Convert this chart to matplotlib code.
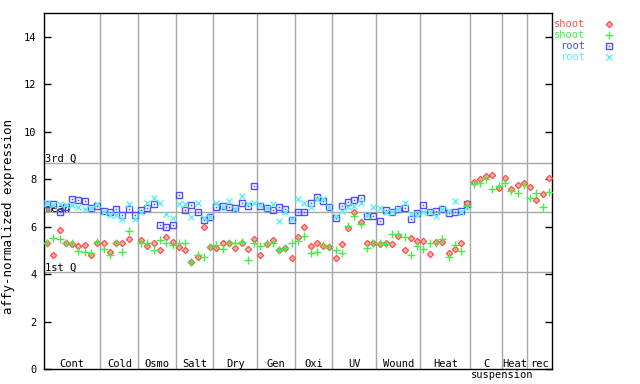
import numpy as np
import matplotlib.pyplot as plt
from matplotlib.lines import Line2D

plt.rcParams['font.family'] = 'DejaVu Sans Mono'

groups = ["Cont", "Cold", "Osmo", "Salt", "Dry", "Gen", "Oxi", "UV",
          "Wound", "Heat", "C", "Heat", "rec"]
group_sizes = [9, 6, 6, 6, 7, 6, 6, 7, 7, 8, 5, 4, 4]

nan = np.nan
# shoot (red)
shoot_red = [5.30, 4.81, 5.87, 5.30, 5.28, 5.19, 5.23, 4.81, 5.33,
             5.33, 4.94, 5.30, 5.30, 5.49, nan,
             5.45, 5.19, 5.33, 5.02, 5.56, 5.37,
             5.14, 5.02, 4.50, 4.71, 5.98, 5.14,
             5.09, 5.33, 5.30, 5.09, 5.30, 5.05, 5.47,
             4.81, 5.28, 5.45, 5.02, 5.09, 4.67,
             5.56, 5.98, 5.19, 5.33, 5.19, 5.14,
             4.67, 5.28, 5.94, 6.64, 6.19, 5.30, 5.30,
             5.28, 5.30, 5.28, 5.61, 5.02, 5.52, 5.40,
             5.40, 4.85, 5.37, 5.37, 4.88, 5.05, 5.30, 6.99,
             7.87, 8.01, 8.12, 8.19, 7.63,
             8.05, 7.58, 7.77, 7.84,
             7.67, 7.12, 7.37, 8.05]
# shoot (green)
shoot_green = [5.33, 5.52, 5.47, 5.30, 5.30, 4.99, 4.94, 4.88, 5.35,
               5.05, 4.80, 5.30, 4.94, 5.82, nan,
               5.30, 5.30, 5.02, 5.45, 5.30, 5.23,
               5.30, 5.30, 4.53, 4.81, 4.71, 5.14,
               5.23, 5.05, 5.30, 5.30, 5.37, 4.60, 5.30,
               5.19, 5.30, 5.30, 5.02, 5.09, 5.30,
               5.39, 5.61, 4.88, 4.94, 5.23, 5.14,
               5.02, 4.88, 6.01, 6.46, 6.12, 5.09, 5.33,
               5.30, 5.28, 5.70, 5.70, 5.56, 4.81, 5.19,
               5.05, 5.30, 5.30, 5.47, 4.74, 5.22, 4.98, 6.88,
               7.81, 7.84, 8.01, 7.58, 7.72,
               7.84, 7.49, 7.42, 7.77,
               7.20, 7.42, 6.82, 7.46]
# root (blue)
root_blue = [6.97, 6.97, 6.61, 6.85, 7.16, 7.13, 7.08, 6.77, 6.88,
             6.68, 6.61, 6.74, 6.49, 6.74, 6.49,
             6.71, 6.77, 6.97, 6.08, 5.98, 6.08,
             7.35, 6.71, 6.92, 6.61, 6.29, 6.40,
             6.82, 6.88, 6.82, 6.78, 6.99, 6.88, 7.72,
             6.88, 6.78, 6.71, 6.82, 6.74, 6.29,
             6.61, 6.61, 6.99, 7.25, 7.08, 6.85,
             6.36, 6.88, 7.03, 7.13, 7.20, 6.46, 6.46,
             6.25, 6.71, 6.61, 6.74, 6.78, 6.32, 6.57,
             6.92, 6.61, 6.67, 6.74, 6.57, 6.64, 6.68, 6.95] + [nan] * 13
# root (cyan)
root_cyan = [6.99, 6.90, 6.97, 6.92, 6.92, 6.85, 6.74, 6.80, 6.97,
             6.64, 6.49, 6.49, 6.32, 6.94, 6.32,
             6.64, 6.99, 7.20, 6.99, 6.54, 6.35,
             6.97, 6.97, 6.43, 6.99, 6.35, 6.40,
             7.02, 6.85, 7.08, 6.74, 7.29, 6.97, 6.99,
             6.90, 6.78, 6.97, 6.23, 6.60, 6.32,
             7.16, 7.02, 6.82, 7.16, 7.16, 6.85,
             6.46, 6.68, 6.82, 6.88, 7.02, 6.50, 6.82,
             6.78, 6.64, 6.61, 6.74, 7.02, 6.54, 6.50,
             6.64, 6.64, 6.46, 6.74, 6.68, 7.08, 6.60, 6.85] + [nan] * 13

q1, mean, q3 = 4.08, 6.61, 8.68

n = sum(group_sizes)
x = np.arange(n) + 0.5
bounds = np.cumsum([0] + group_sizes)

RED, GREEN, BLUE, CYAN = '#ff4d4d', '#44ee44', '#4d4dff', '#5ef0f0'
grey = '#a8a8a8'

styles = {
    'red': dict(marker='D', ms=3.2, mfc='#ffb0b0', mec=RED, mew=0.9, ls='none'),
    'green': dict(marker='+', ms=5.2, color=GREEN, mew=1.0, ls='none'),
    'blue': dict(marker='s', ms=4.2, mfc='none', mec=BLUE, mew=1.0, ls='none'),
    'bdot': dict(marker='s', ms=1.1, color=BLUE, mew=0, ls='none'),
    'cyan': dict(marker='x', ms=4.0, color=CYAN, mew=1.0, ls='none'),
}

fig = plt.figure(figsize=(6.4, 3.84), dpi=100)
ax = fig.add_axes([44 / 640, 15 / 384, 508 / 640, 355.7 / 384])
ax.set_xlim(0, n)
ax.set_ylim(0, 15)

for b in bounds[1:-1]:
    ax.axvline(b, color=grey, lw=1, zorder=1)
for v in (q1, mean, q3):
    ax.axhline(v, color=grey, lw=1, zorder=1)

ytr = ax.get_yaxis_transform()
ax.text(0.002, q3 + 0.07, '3rd Q', transform=ytr, fontsize=7.5, va='baseline')
ax.text(0.002, mean + 0.03, 'mean', transform=ytr, fontsize=7.5, va='baseline')
ax.text(0.002, q1 + 0.07, '1st Q', transform=ytr, fontsize=7.5, va='baseline')

ax.plot(x, root_blue, **styles['blue'], zorder=3)
ax.plot(x, root_blue, **styles['bdot'], zorder=3)
ax.plot(x, root_cyan, **styles['cyan'], zorder=3)
ax.plot(x, shoot_red, **styles['red'], zorder=4)
ax.plot(x, shoot_green, **styles['green'], zorder=4)

for lab, a, b in zip(groups, bounds[:-1], bounds[1:]):
    ax.text((a + b) / 2, 0.07, lab, ha='center', va='baseline', fontsize=7.5)
ax.text(bounds[11], -0.36, 'suspension', ha='center', va='baseline',
        fontsize=7.5, clip_on=False)

ax.set_xticks([])
ax.set_yticks(range(0, 15, 2))
ax.tick_params(axis='y', direction='in', length=5, width=1, right=True,
               labelsize=7.5, pad=5.5)
for s in ax.spines.values():
    s.set_color('black')
    s.set_linewidth(1)
ax.set_ylabel('affy-normalized expression', fontsize=9)
ax.yaxis.set_label_coords(-0.058, 0.43)

# legend, drawn by hand to the right of the plot
leg = [('shoot', RED, ['red']), ('shoot', GREEN, ['green']),
       ('root', BLUE, ['blue', 'bdot']), ('root', CYAN, ['cyan'])]
for k, (lab, col, sty) in enumerate(leg):
    yy = 1 - (24 + 10.9 * k) / 384
    fig.text(585 / 640, yy, lab, color=col, ha='right', va='center', fontsize=7.5)
    for s in sty:
        fig.add_artist(Line2D([609 / 640], [yy], transform=fig.transFigure, **styles[s]))

fig.savefig('out.png', dpi=100)
